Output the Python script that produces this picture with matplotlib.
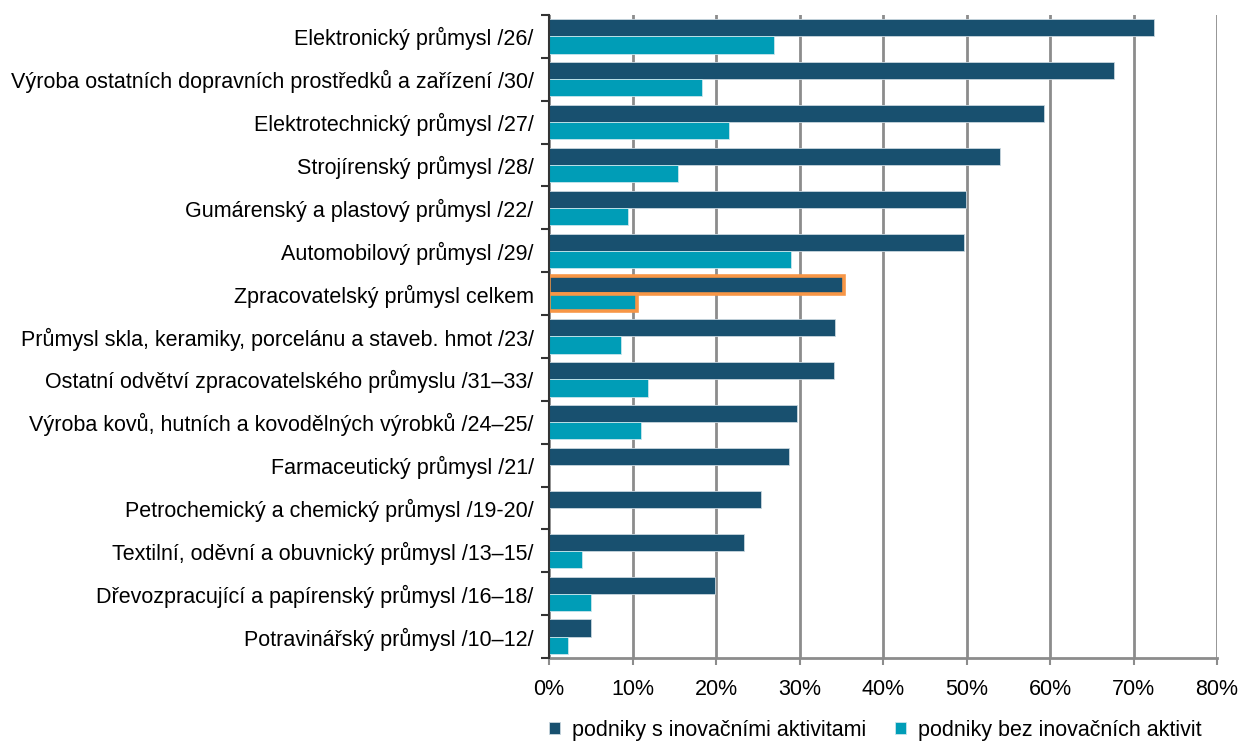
import numpy as np
import matplotlib.pyplot as plt
from matplotlib.ticker import FixedLocator

plt.rcParams['font.family'] = ['Liberation Sans', 'DejaVu Sans']

categories = [
    "Elektronický průmysl /26/",
    "Výroba ostatních dopravních prostředků a zařízení /30/",
    "Elektrotechnický průmysl /27/",
    "Strojírenský průmysl /28/",
    "Gumárenský a plastový průmysl /22/",
    "Automobilový průmysl /29/",
    "Zpracovatelský průmysl celkem",
    "Průmysl skla, keramiky, porcelánu a staveb. hmot /23/",
    "Ostatní odvětví zpracovatelského průmyslu /31–33/",
    "Výroba kovů, hutních a kovodělných výrobků /24–25/",
    "Farmaceutický průmysl /21/",
    "Petrochemický a chemický průmysl /19-20/",
    "Textilní, oděvní a obuvnický průmysl /13–15/",
    "Dřevozpracující a papírenský průmysl /16–18/",
    "Potravinářský průmysl /10–12/",
]
s_inovacemi = [72.4, 67.7, 59.3, 54.0, 49.9, 49.7, 35.3, 34.3, 34.1, 29.7, 28.7, 25.4, 23.4, 19.9, 5.05]
bez_inovaci = [26.9, 18.3, 21.6, 15.5, 9.5, 29.0, 10.5, 8.6, 11.8, 11.0, np.nan, np.nan, 3.9, 5.05, 2.3]
x_ticks = [0, 10, 20, 30, 40, 50, 60, 70, 80]
highlight = "Zpracovatelský průmysl celkem"

dark = "#18506f"
light = "#009db7"
orange = "#f79646"

fig = plt.figure(figsize=(12.41, 7.42), dpi=100)
ax = fig.add_axes([0.4424, 0.1132, 0.5383, 0.8666])

y = np.arange(len(categories))
h = 0.4
b1 = ax.barh(y - h / 2, s_inovacemi, height=h, color=dark, edgecolor="#c9d6de", linewidth=0.6,
             label="podniky s inovačními aktivitami", zorder=3)
b2 = ax.barh(y + h / 2, np.nan_to_num(bez_inovaci), height=h, color=light, edgecolor="#c9e6ec", linewidth=0.6,
             label="podniky bez inovačních aktivit", zorder=3)

i = categories.index(highlight)
for b in (b1[i], b2[i]):
    b.set_edgecolor(orange)
    b.set_linewidth(2.6)

ax.set_ylim(len(categories) - 0.5, -0.5)
ax.set_xlim(0, 80)
ax.set_xticks(x_ticks)
ax.set_xticklabels([f"{t}%" for t in x_ticks], fontsize=15.5)

ax.yaxis.set_major_locator(FixedLocator(np.arange(-0.5, len(categories), 1)))
ax.yaxis.set_minor_locator(FixedLocator(y))
ax.set_yticklabels([], minor=False)
ax.set_yticklabels(categories, minor=True, fontsize=15.5)
ax.tick_params(axis='y', which='major', length=6, width=1.5, color="#333333")
ax.tick_params(axis='y', which='minor', length=0, pad=11)
ax.tick_params(axis='x', length=5, width=1.5, color="#8c8c8c", pad=10)

ax.grid(axis='x', color="#8c8c8c", linewidth=2, zorder=0)
ax.set_axisbelow(True)
for s in ("top", "right"):
    ax.spines[s].set_visible(False)
ax.spines["left"].set_color("#333333")
ax.spines["left"].set_linewidth(1.5)
ax.spines["left"].set_zorder(4)
ax.spines["bottom"].set_color("#8c8c8c")
ax.spines["bottom"].set_linewidth(2)

fig.legend(handles=[b1, b2], loc="center", bbox_to_anchor=(0.7055, 0.016), ncol=2, frameon=False,
           fontsize=15.5, handlelength=0.5, handleheight=0.5, handletextpad=0.55, columnspacing=1.35,
           borderpad=0.2)

fig.savefig("out.png", dpi=100)
